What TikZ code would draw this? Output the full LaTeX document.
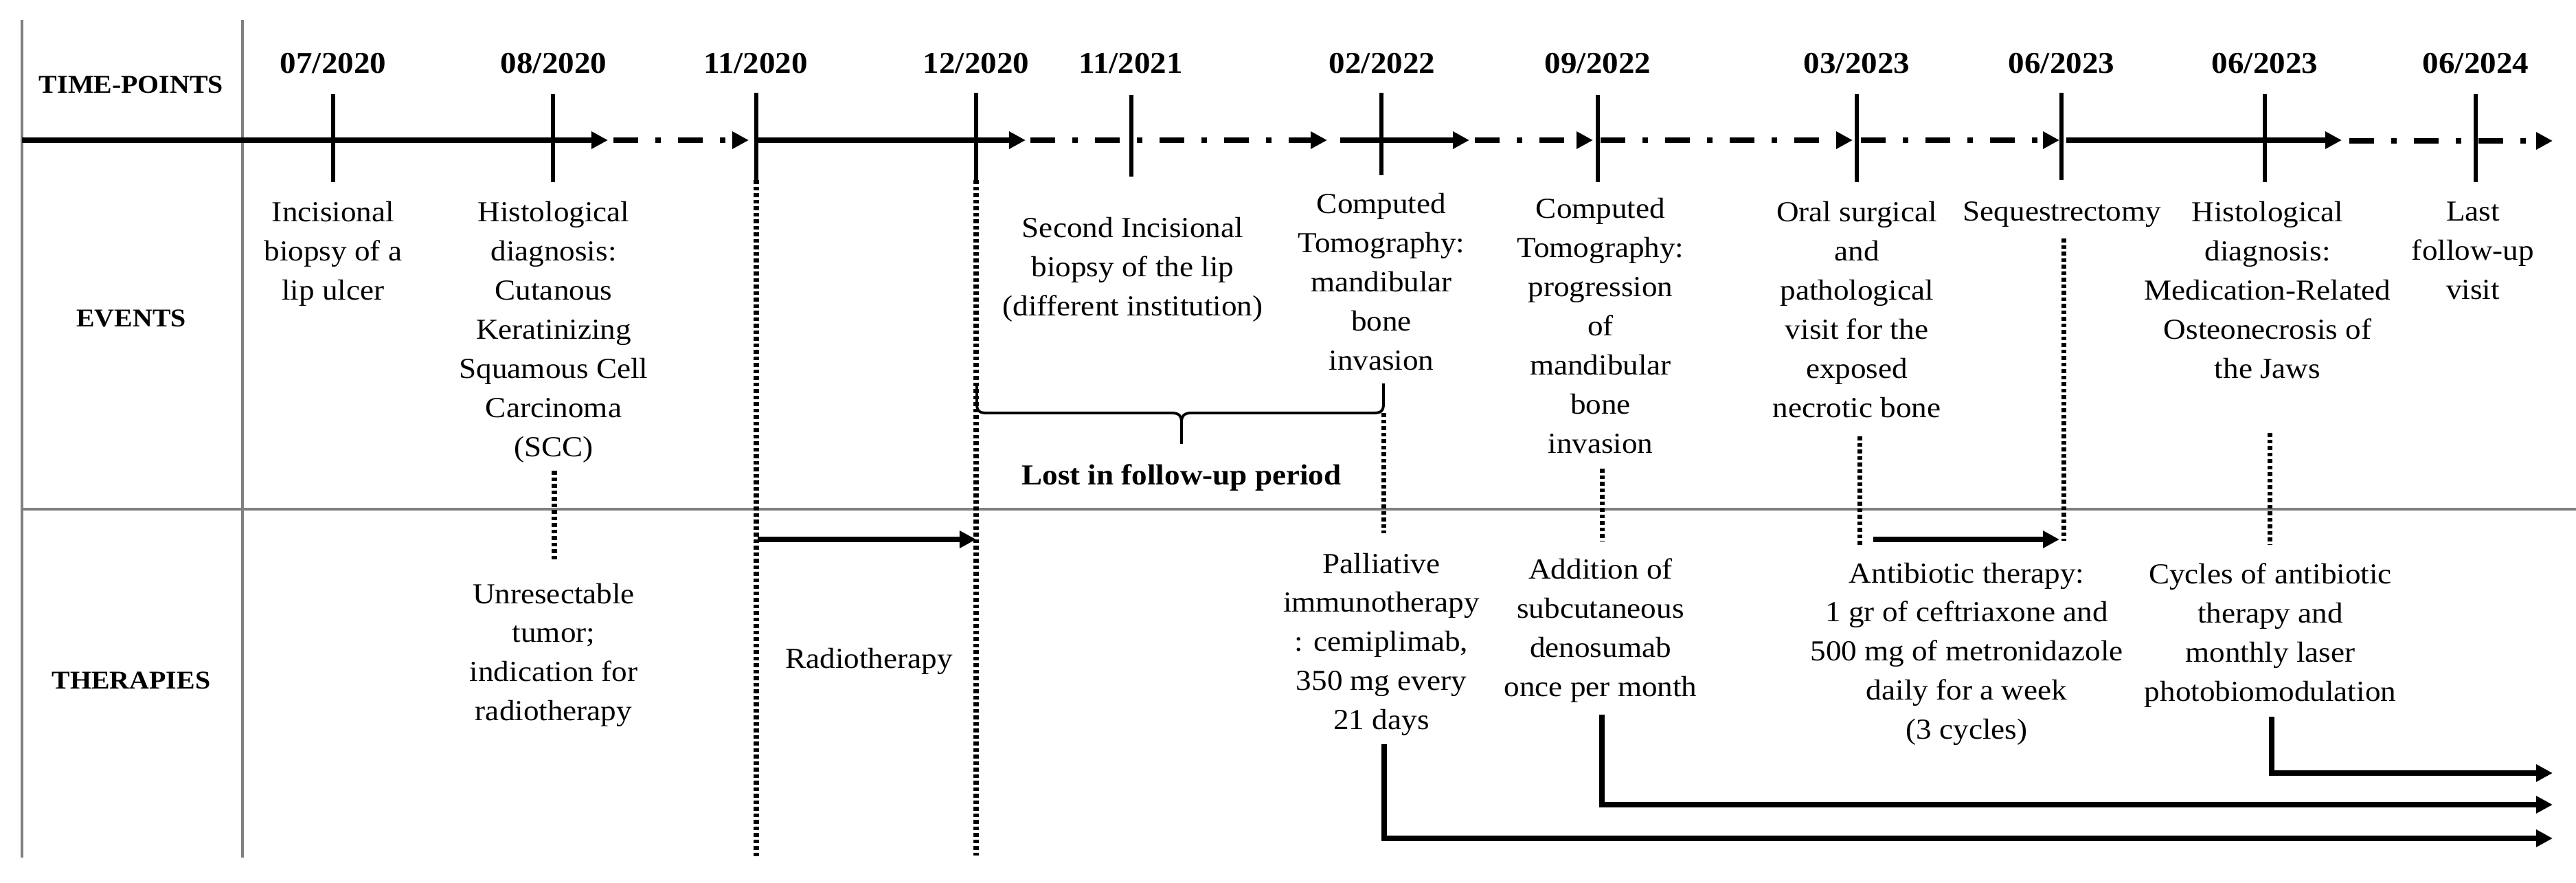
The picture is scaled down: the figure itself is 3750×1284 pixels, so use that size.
\documentclass[tikz,border=0pt]{standalone}
\usepackage{fontspec}
\setmainfont[FakeStretch=1.07]{Liberation Serif}
\usetikzlibrary{arrows.meta}
\begin{document}
\begin{tikzpicture}[x=0.01cm,y=-0.01cm,
  gridline/.style={draw=gray, line width=1.1pt},
  tl/.style={line width=2.4pt, line cap=butt},
  tlarrow/.style={tl, -{Triangle[length=0.24cm,width=0.24cm]}},
  dashdot/.style={dash pattern=on 0.36cm off 0.25cm on 0.08cm off 0.25cm},
  tickline/.style={line width=1.9pt},
  dotline/.style={line width=2pt, dash pattern=on 0.055cm off 0.04cm},
  txt/.style={align=center, inner sep=0pt, anchor=north, font=\fontsize{12pt}{16.2pt}\selectfont},
  datelbl/.style={font=\fontsize{12.5pt}{15pt}\selectfont\bfseries, inner sep=0pt},
  head/.style={font=\fontsize{10.6pt}{14pt}\selectfont\bfseries, inner sep=0pt},
  therarrow/.style={line width=2.3pt, line cap=butt, -{Triangle[length=0.24cm,width=0.24cm]}},
  bracestyle/.style={line width=1.1pt}
]
\useasboundingbox (0,0) rectangle (3750,1284);

% ---------- grid ----------
\coordinate (g1t) at (32,29);   \coordinate (g1b) at (32,1248);
\coordinate (g2t) at (353,29);  \coordinate (g2b) at (353,1248);
\coordinate (hl) at (32,741);   \coordinate (hr) at (3750,741);
\draw[gridline] (g1t) -- (g1b);
\draw[gridline] (g2t) -- (g2b);
\draw[gridline, line width=1.4pt] (hl) -- (hr);

% ---------- headings ----------
\node[head] (htp) at (191,123) {TIME-POINTS};
\node[head] (hev) at (191,463) {EVENTS};
\node[head] (hth) at (191,990) {THERAPIES};

% ---------- timeline ----------
\coordinate (L0) at (32,204);   \coordinate (L1) at (885,204);
\coordinate (L2) at (893,204);  \coordinate (L3) at (1090,204);
\coordinate (L4) at (1101,204); \coordinate (L5) at (1493,204);
\coordinate (L6) at (1500,204); \coordinate (L7) at (1932,204);
\coordinate (L8) at (1951,204); \coordinate (L9) at (2139,204);
\coordinate (L10) at (2147,204); \coordinate (L11) at (2319,204);
\coordinate (L12) at (2330,204); \coordinate (L13) at (2697,204);
\coordinate (L14) at (2709,204); \coordinate (L15) at (2998,204);
\coordinate (L16) at (3008,204); \coordinate (L17) at (3409,204);
\coordinate (L18) at (3420,205); \coordinate (L19) at (3716,205);
\draw[tlarrow] (L0) -- (L1);
\draw[tlarrow, dashdot] (L2) -- (L3);
\draw[tlarrow] (L4) -- (L5);
\draw[tlarrow, dashdot] (L6) -- (L7);
\draw[tlarrow] (L8) -- (L9);
\draw[tlarrow, dashdot] (L10) -- (L11);
\draw[tlarrow, dashdot] (L12) -- (L13);
\draw[tlarrow, dashdot] (L14) -- (L15);
\draw[tlarrow] (L16) -- (L17);
\draw[tlarrow, dashdot] (L18) -- (L19);

% ---------- dates and ticks ----------
\node[datelbl] (d1) at (485,92) {07/2020};
\node[datelbl] (d2) at (806,92) {08/2020};
\node[datelbl] (d3) at (1100,92) {11/2020};
\node[datelbl] (d4) at (1421,92) {12/2020};
\node[datelbl] (d5) at (1646,92) {11/2021};
\node[datelbl] (d6) at (2012,92) {02/2022};
\node[datelbl] (d7) at (2326,92) {09/2022};
\node[datelbl] (d8) at (2703,92) {03/2023};
\node[datelbl] (d9) at (3001,92) {06/2023};
\node[datelbl] (d10) at (3297,92) {06/2023};
\node[datelbl] (d11) at (3604,92) {06/2024};

\coordinate (t1a) at (485,137);  \coordinate (t1b) at (485,265);
\coordinate (t2a) at (805,137);  \coordinate (t2b) at (805,265);
\coordinate (t3a) at (1101,135); \coordinate (t3b) at (1101,262);
\coordinate (t4a) at (1421,135); \coordinate (t4b) at (1421,262);
\coordinate (t5a) at (1647,138); \coordinate (t5b) at (1647,257);
\coordinate (t6a) at (2011,135); \coordinate (t6b) at (2011,255);
\coordinate (t7a) at (2326,138); \coordinate (t7b) at (2326,265);
\coordinate (t8a) at (2703,137); \coordinate (t8b) at (2703,265);
\coordinate (t9a) at (3001,135); \coordinate (t9b) at (3001,262);
\coordinate (t10a) at (3297,137); \coordinate (t10b) at (3297,265);
\coordinate (t11a) at (3604,137); \coordinate (t11b) at (3604,265);
\foreach \i in {1,...,11} {\draw[tickline] (t\i a) -- (t\i b);}

% ---------- events ----------
\node[txt] (e1) at (485,293) {Incisional\\biopsy of a\\lip ulcer};
\node[txt] (e2) at (806,293) {Histological\\diagnosis:\\Cutanous\\Keratinizing\\Squamous Cell\\Carcinoma\\(SCC)};
\node[txt] (e3) at (1649,316) {Second Incisional\\biopsy of the lip\\(different institution)};
\node[txt] (e4) at (2011,281) {Computed\\Tomography:\\mandibular\\bone\\invasion};
\node[txt] (e5) at (2330,288) {Computed\\Tomography:\\progression\\of\\mandibular\\bone\\invasion};
\node[txt] (e6) at (2703,293) {Oral surgical\\and\\pathological\\visit for the\\exposed\\necrotic bone};
\node[txt] (e7) at (3002,293) {Sequestrectomy};
\node[txt] (e8) at (3301,293) {Histological\\diagnosis:\\Medication-Related\\Osteonecrosis of\\the Jaws};
\node[txt] (e9) at (3600,293) {Last\\follow-up\\visit};

% ---------- brace ----------
\coordinate (brL) at (1422,558);
\coordinate (brR) at (2014,558);
\coordinate (brT) at (1720,646);
\draw[bracestyle] (brL) -- (1422,588) .. controls (1422,598) and (1426,601) .. (1436,601)
  -- (1706,601) .. controls (1716,601) and (1720,605) .. (1720,615) -- (brT);
\draw[bracestyle] (1720,615) .. controls (1720,605) and (1724,601) .. (1734,601)
  -- (2000,601) .. controls (2010,601) and (2014,598) .. (2014,588) -- (brR);
\node[font=\fontsize{12pt}{15pt}\selectfont\bfseries, inner sep=0pt] (lost) at (1720,695) {Lost in follow-up period};

% ---------- dotted connectors ----------
\coordinate (v1a) at (807,685);  \coordinate (v1b) at (807,815);
\coordinate (v2b) at (1101,1248);
\coordinate (v3b) at (1421,1245);
\coordinate (v4a) at (2014,601); \coordinate (v4b) at (2014,776);
\coordinate (v5a) at (2332,682); \coordinate (v5b) at (2332,788);
\coordinate (v6a) at (2707,635); \coordinate (v6b) at (2707,793);
\coordinate (v7a) at (3004,347); \coordinate (v7b) at (3004,787);
\coordinate (v8a) at (3304,630); \coordinate (v8b) at (3304,792);
\draw[dotline] (v1a) -- (v1b);
\draw[dotline] (t3b) -- (v2b);
\draw[dotline] (t4b) -- (v3b);
\draw[dotline] (v4a) -- (v4b);
\draw[dotline] (v5a) -- (v5b);
\draw[dotline] (v6a) -- (v6b);
\draw[dotline] (v7a) -- (v7b);
\draw[dotline] (v8a) -- (v8b);

% ---------- therapies ----------
\node[txt] (th1) at (806,848) {Unresectable\\tumor;\\indication for\\radiotherapy};
\node[txt, anchor=center] (th2) at (1265,962) {Radiotherapy};
\node[txt] (th3) at (2011,804) {Palliative\\immunotherapy\\: cemiplimab,\\350 mg every\\21 days};
\node[txt] (th4) at (2330,812) {Addition of\\subcutaneous\\denosumab\\once per month};
\node[txt] (th5) at (2863,818) {Antibiotic therapy:\\1 gr of ceftriaxone and\\500 mg of metronidazole\\daily for a week\\(3 cycles)};
\node[txt] (th6) at (3305,819) {Cycles of antibiotic\\therapy and\\monthly laser\\photobiomodulation};

\coordinate (r1) at (1103,785);  \coordinate (r2) at (1421,785);
\coordinate (ab1) at (2727,785); \coordinate (ab2) at (2998,785);
\draw[therarrow] (r1) -- (r2);
\draw[therarrow] (ab1) -- (ab2);

\coordinate (pa) at (2015,1083);  \coordinate (pe) at (3716,1220);
\coordinate (da) at (2332,1040);  \coordinate (de) at (3716,1171);
\coordinate (ca) at (3307,1043);  \coordinate (ce) at (3716,1125);
\draw[therarrow] (pa) |- (pe);
\draw[therarrow] (da) |- (de);
\draw[therarrow] (ca) |- (ce);
\end{tikzpicture}
\end{document}
